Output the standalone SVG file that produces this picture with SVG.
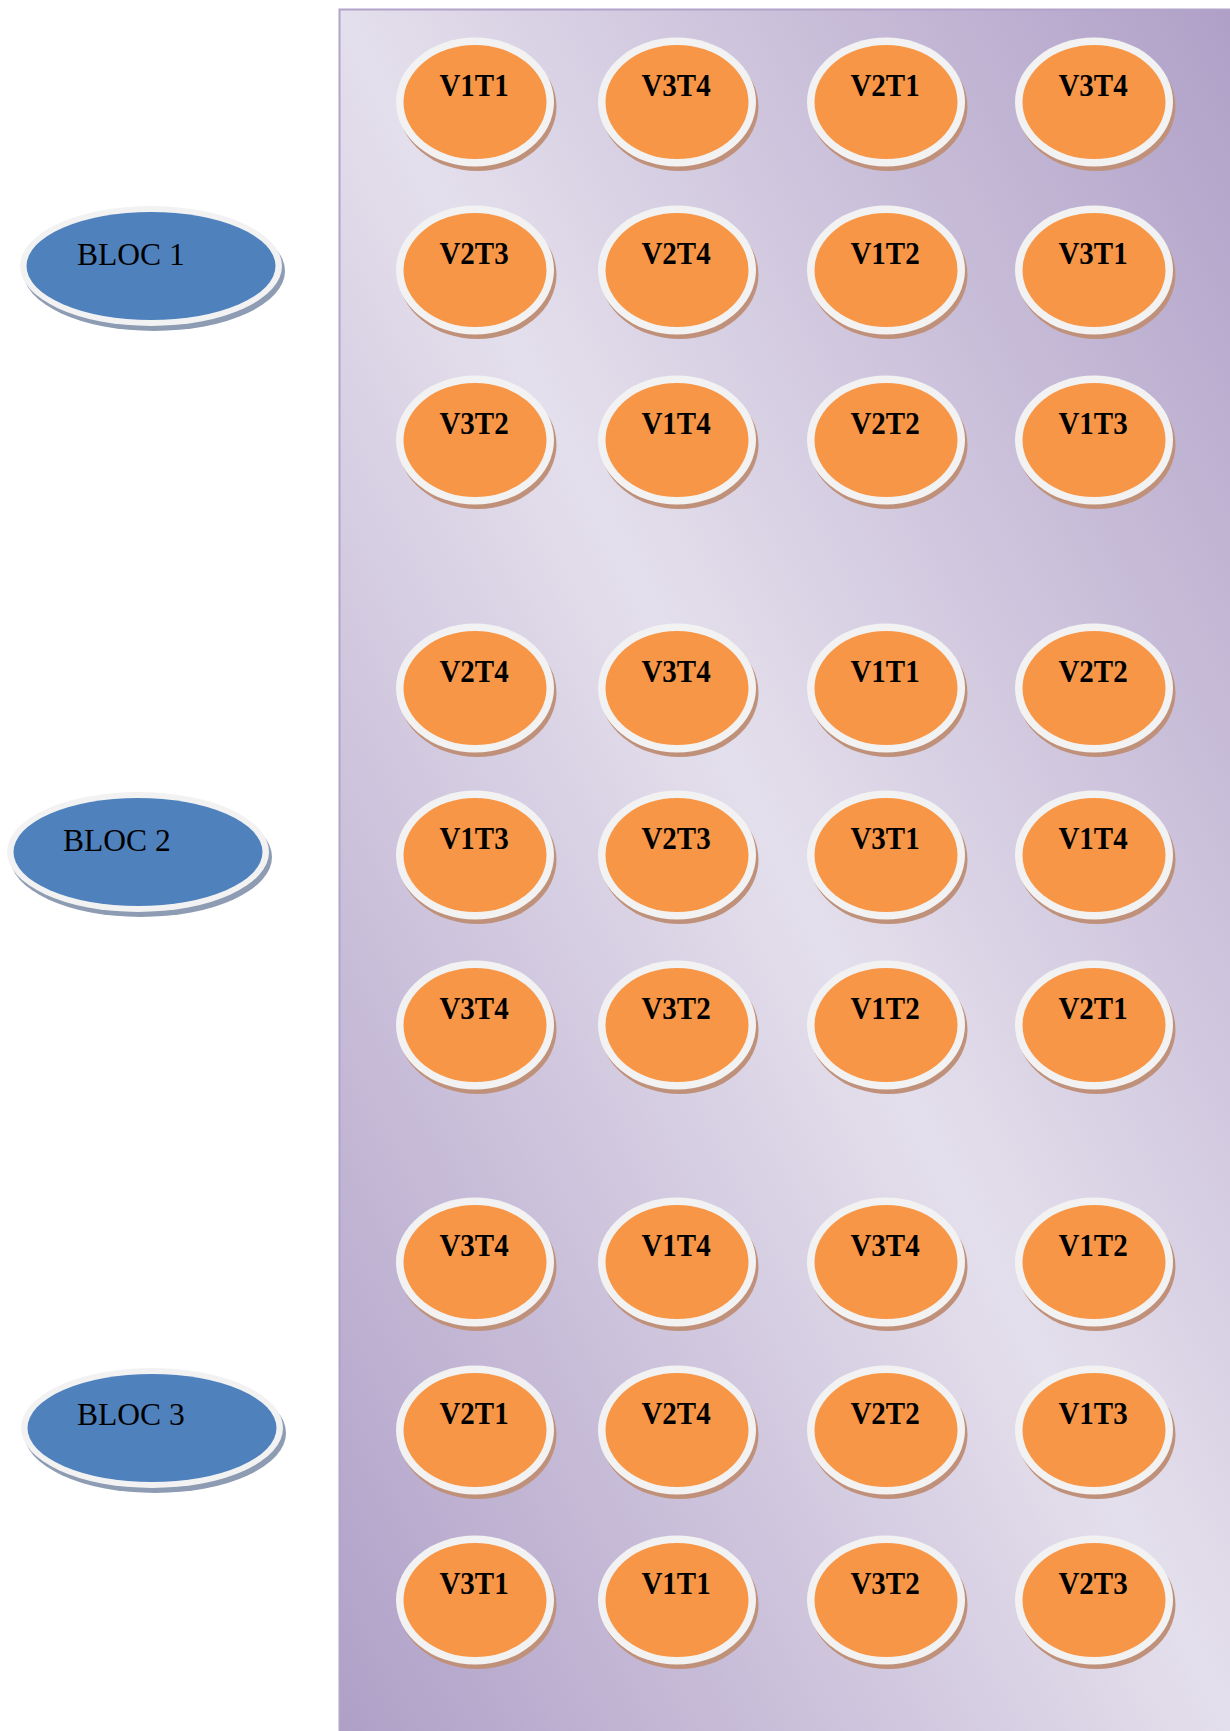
<svg xmlns="http://www.w3.org/2000/svg" xmlns:xlink="http://www.w3.org/1999/xlink" width="1230" height="1731" viewBox="0 0 1230 1731">
<defs>
<linearGradient id="bg" x1="1" y1="0" x2="0" y2="1">
<stop offset="0" stop-color="#af9fc7"/>
<stop offset="0.5" stop-color="#e4dfec"/>
<stop offset="1" stop-color="#af9fc7"/>
</linearGradient>
<g id="disc">
<ellipse cx="2.5" cy="4.5" rx="79" ry="64.5" fill="#c0917a"/>
<ellipse cx="0" cy="0" rx="79" ry="64.5" fill="#f2f2f2"/>
<ellipse cx="0" cy="0" rx="71.5" ry="57" fill="#f79646"/>
</g>
<g id="bdisc">
<ellipse cx="3" cy="5" rx="131" ry="60" fill="#8d9bb3"/>
<ellipse cx="0" cy="0" rx="131" ry="60" fill="#f2f2f2"/>
<ellipse cx="0" cy="0" rx="124.5" ry="54" fill="#4f81bd"/>
</g>
</defs>
<style>
.lbl{font-family:"Liberation Serif","Times New Roman",serif;font-weight:bold;font-size:29px;fill:#000;text-anchor:middle}
.bl{font-family:"Liberation Serif","Times New Roman",serif;font-size:31.5px;fill:#000}
</style>
<rect x="0" y="0" width="1230" height="1731" fill="#ffffff"/>
<rect id="panel" x="339.5" y="9.5" width="900" height="1730" fill="url(#bg)" stroke="#b1a3ca" stroke-width="2"/>
<g id="connectors"/>
<g id="bloc1" transform="translate(151,266)"><use xlink:href="#bdisc"/><text class="bl" x="-74" y="-1">BLOC 1</text></g>
<g id="bloc2" transform="translate(138,852)"><use xlink:href="#bdisc"/><text class="bl" x="-75" y="-1">BLOC 2</text></g>
<g id="bloc3" transform="translate(152,1428)"><use xlink:href="#bdisc"/><text class="bl" x="-75" y="-3">BLOC 3</text></g>

<g id="r1c1" transform="translate(475,102)"><use xlink:href="#disc"/><text class="lbl" x="-1" y="-5.5" transform="scale(1,1.1)">V1T1</text></g>
<g id="r1c2" transform="translate(677,102)"><use xlink:href="#disc"/><text class="lbl" x="-1" y="-5.5" transform="scale(1,1.1)">V3T4</text></g>
<g id="r1c3" transform="translate(886,102)"><use xlink:href="#disc"/><text class="lbl" x="-1" y="-5.5" transform="scale(1,1.1)">V2T1</text></g>
<g id="r1c4" transform="translate(1094,102)"><use xlink:href="#disc"/><text class="lbl" x="-1" y="-5.5" transform="scale(1,1.1)">V3T4</text></g>

<g id="r2c1" transform="translate(475,270)"><use xlink:href="#disc"/><text class="lbl" x="-1" y="-5.5" transform="scale(1,1.1)">V2T3</text></g>
<g id="r2c2" transform="translate(677,270)"><use xlink:href="#disc"/><text class="lbl" x="-1" y="-5.5" transform="scale(1,1.1)">V2T4</text></g>
<g id="r2c3" transform="translate(886,270)"><use xlink:href="#disc"/><text class="lbl" x="-1" y="-5.5" transform="scale(1,1.1)">V1T2</text></g>
<g id="r2c4" transform="translate(1094,270)"><use xlink:href="#disc"/><text class="lbl" x="-1" y="-5.5" transform="scale(1,1.1)">V3T1</text></g>

<g id="r3c1" transform="translate(475,440)"><use xlink:href="#disc"/><text class="lbl" x="-1" y="-5.5" transform="scale(1,1.1)">V3T2</text></g>
<g id="r3c2" transform="translate(677,440)"><use xlink:href="#disc"/><text class="lbl" x="-1" y="-5.5" transform="scale(1,1.1)">V1T4</text></g>
<g id="r3c3" transform="translate(886,440)"><use xlink:href="#disc"/><text class="lbl" x="-1" y="-5.5" transform="scale(1,1.1)">V2T2</text></g>
<g id="r3c4" transform="translate(1094,440)"><use xlink:href="#disc"/><text class="lbl" x="-1" y="-5.5" transform="scale(1,1.1)">V1T3</text></g>

<g id="r4c1" transform="translate(475,688)"><use xlink:href="#disc"/><text class="lbl" x="-1" y="-5.5" transform="scale(1,1.1)">V2T4</text></g>
<g id="r4c2" transform="translate(677,688)"><use xlink:href="#disc"/><text class="lbl" x="-1" y="-5.5" transform="scale(1,1.1)">V3T4</text></g>
<g id="r4c3" transform="translate(886,688)"><use xlink:href="#disc"/><text class="lbl" x="-1" y="-5.5" transform="scale(1,1.1)">V1T1</text></g>
<g id="r4c4" transform="translate(1094,688)"><use xlink:href="#disc"/><text class="lbl" x="-1" y="-5.5" transform="scale(1,1.1)">V2T2</text></g>

<g id="r5c1" transform="translate(475,855)"><use xlink:href="#disc"/><text class="lbl" x="-1" y="-5.5" transform="scale(1,1.1)">V1T3</text></g>
<g id="r5c2" transform="translate(677,855)"><use xlink:href="#disc"/><text class="lbl" x="-1" y="-5.5" transform="scale(1,1.1)">V2T3</text></g>
<g id="r5c3" transform="translate(886,855)"><use xlink:href="#disc"/><text class="lbl" x="-1" y="-5.5" transform="scale(1,1.1)">V3T1</text></g>
<g id="r5c4" transform="translate(1094,855)"><use xlink:href="#disc"/><text class="lbl" x="-1" y="-5.5" transform="scale(1,1.1)">V1T4</text></g>

<g id="r6c1" transform="translate(475,1025)"><use xlink:href="#disc"/><text class="lbl" x="-1" y="-5.5" transform="scale(1,1.1)">V3T4</text></g>
<g id="r6c2" transform="translate(677,1025)"><use xlink:href="#disc"/><text class="lbl" x="-1" y="-5.5" transform="scale(1,1.1)">V3T2</text></g>
<g id="r6c3" transform="translate(886,1025)"><use xlink:href="#disc"/><text class="lbl" x="-1" y="-5.5" transform="scale(1,1.1)">V1T2</text></g>
<g id="r6c4" transform="translate(1094,1025)"><use xlink:href="#disc"/><text class="lbl" x="-1" y="-5.5" transform="scale(1,1.1)">V2T1</text></g>

<g id="r7c1" transform="translate(475,1262)"><use xlink:href="#disc"/><text class="lbl" x="-1" y="-5.5" transform="scale(1,1.1)">V3T4</text></g>
<g id="r7c2" transform="translate(677,1262)"><use xlink:href="#disc"/><text class="lbl" x="-1" y="-5.5" transform="scale(1,1.1)">V1T4</text></g>
<g id="r7c3" transform="translate(886,1262)"><use xlink:href="#disc"/><text class="lbl" x="-1" y="-5.5" transform="scale(1,1.1)">V3T4</text></g>
<g id="r7c4" transform="translate(1094,1262)"><use xlink:href="#disc"/><text class="lbl" x="-1" y="-5.5" transform="scale(1,1.1)">V1T2</text></g>

<g id="r8c1" transform="translate(475,1430)"><use xlink:href="#disc"/><text class="lbl" x="-1" y="-5.5" transform="scale(1,1.1)">V2T1</text></g>
<g id="r8c2" transform="translate(677,1430)"><use xlink:href="#disc"/><text class="lbl" x="-1" y="-5.5" transform="scale(1,1.1)">V2T4</text></g>
<g id="r8c3" transform="translate(886,1430)"><use xlink:href="#disc"/><text class="lbl" x="-1" y="-5.5" transform="scale(1,1.1)">V2T2</text></g>
<g id="r8c4" transform="translate(1094,1430)"><use xlink:href="#disc"/><text class="lbl" x="-1" y="-5.5" transform="scale(1,1.1)">V1T3</text></g>

<g id="r9c1" transform="translate(475,1600)"><use xlink:href="#disc"/><text class="lbl" x="-1" y="-5.5" transform="scale(1,1.1)">V3T1</text></g>
<g id="r9c2" transform="translate(677,1600)"><use xlink:href="#disc"/><text class="lbl" x="-1" y="-5.5" transform="scale(1,1.1)">V1T1</text></g>
<g id="r9c3" transform="translate(886,1600)"><use xlink:href="#disc"/><text class="lbl" x="-1" y="-5.5" transform="scale(1,1.1)">V3T2</text></g>
<g id="r9c4" transform="translate(1094,1600)"><use xlink:href="#disc"/><text class="lbl" x="-1" y="-5.5" transform="scale(1,1.1)">V2T3</text></g>
</svg>
